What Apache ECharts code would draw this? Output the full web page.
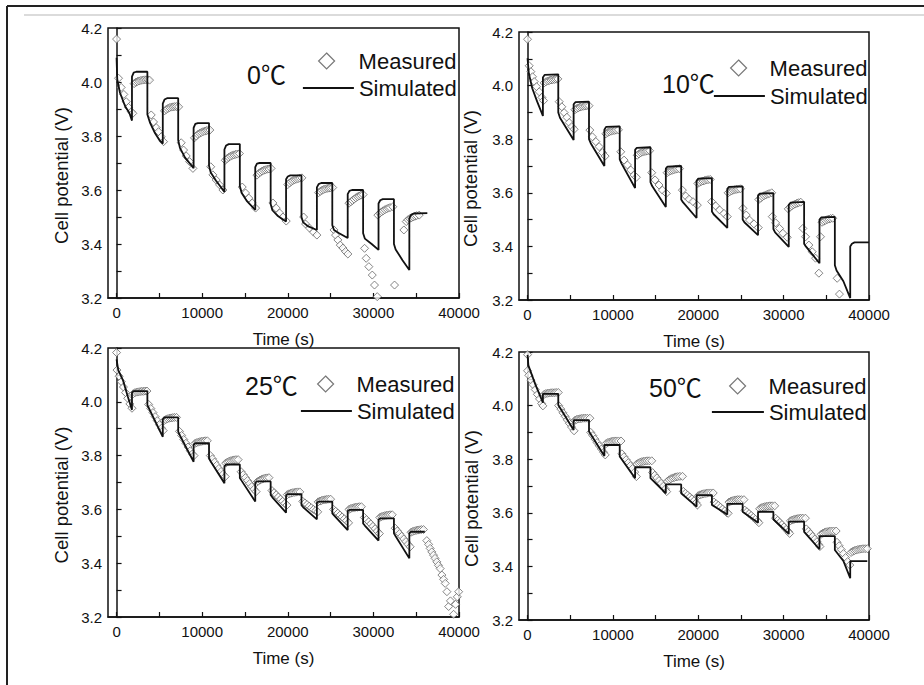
<!DOCTYPE html>
<html><head><meta charset="utf-8">
<script src="https://cdn.jsdelivr.net/npm/echarts@6/dist/echarts.min.js"></script>
<style>html,body{margin:0;padding:0;background:#fff;}#c{width:924px;height:685px;}</style>
</head><body><div id="c"></div>
<script>
// ---------- axis ticks ----------
const xTickLabels = [0, 10000, 20000, 30000, 40000];
const xTicks = [0, 5000, 10000, 15000, 20000, 25000, 30000, 35000, 40000];
const yTickLabels = [3.2, 3.4, 3.6, 3.8, 4.0, 4.2];
const yTicks = [3.2, 3.3, 3.4, 3.5, 3.6, 3.7, 3.8, 3.9, 4.0, 4.1, 4.2];
const panelTitles = ['0℃', '10℃', '25℃', '50℃'];
const legendNames = ['Measured', 'Simulated'];

// ---------- 0 ℃ ----------
const sim0 = [[0,4.09],[80,4.01],[400,3.96],[1000,3.91],[1500,3.885],[1800,3.857],
[1800,4.02],[2000,4.035],[2300,4.038],[3600,4.038],
[3600,3.88],[3900,3.85],[4500,3.81],[5000,3.785],[5400,3.772],
[5400,3.92],[5600,3.935],[5900,3.94],[7200,3.94],
[7200,3.785],[7400,3.756],[8000,3.72],[9000,3.681],
[9000,3.83],[9200,3.845],[9500,3.848],[10800,3.848],
[10800,3.69],[11000,3.665],[11600,3.635],[12600,3.593],
[12600,3.75],[12800,3.765],[13100,3.77],[14400,3.77],
[14400,3.615],[14600,3.59],[15200,3.56],[16200,3.526],
[16200,3.685],[16400,3.698],[16700,3.70],[18000,3.70],
[18000,3.548],[18200,3.525],[18800,3.505],[19800,3.483],
[19800,3.64],[20000,3.65],[20300,3.654],[21600,3.654],
[21600,3.50],[21800,3.48],[22400,3.465],[23400,3.452],
[23400,3.61],[23600,3.622],[23900,3.626],[25200,3.626],
[25200,3.47],[25400,3.452],[26000,3.44],[27000,3.422],
[27000,3.585],[27200,3.597],[27500,3.60],[28800,3.60],
[28800,3.44],[29000,3.42],[29800,3.40],[30600,3.378],
[30600,3.55],[30800,3.562],[31100,3.566],[32400,3.566],
[32400,3.40],[32600,3.38],[33400,3.34],[34200,3.304],
[34200,3.495],[34400,3.508],[34700,3.513],[36300,3.514]];
const meas0 = [[0,4.159],
[230,4.014],[540,3.98],[850,3.954],[1130,3.927],[1400,3.906],[1710,3.89],[1900,3.884],
[2050,3.994],[2250,3.999],[2450,4.002],[2650,4.004],[2850,4.006],[3050,4.007],[3250,4.008],[3450,4.008],[3650,4.008],[3850,4.007],
[4050,3.878],[4320,3.852],[4630,3.831],[4900,3.816],[5220,3.797],[5490,3.779],
[5600,3.893],[5800,3.898],[6000,3.902],[6200,3.905],[6400,3.907],[6600,3.908],[6800,3.909],[7000,3.909],[7250,3.908],
[7550,3.775],[7830,3.748],[8140,3.726],[8530,3.705],[8920,3.68],
[9100,3.793],[9300,3.80],[9500,3.806],[9700,3.81],[9900,3.813],[10100,3.816],[10300,3.818],[10500,3.82],[10700,3.821],[10900,3.822],
[11000,3.686],[11250,3.656],[11640,3.637],[12030,3.619],[12420,3.60],
[12700,3.71],[12900,3.716],[13100,3.721],[13300,3.725],[13500,3.728],[13700,3.73],[13900,3.732],[14100,3.733],[14350,3.735],
[14680,3.611],[15070,3.589],[15450,3.57],[15850,3.552],[16240,3.533],
[16400,3.655],[16600,3.661],[16800,3.666],[17000,3.67],[17200,3.673],[17400,3.675],[17600,3.677],[17800,3.678],[18050,3.68],
[18260,3.552],[18650,3.533],[19040,3.515],[19430,3.50],[19820,3.485],
[20000,3.62],[20200,3.626],[20400,3.631],[20600,3.635],[20800,3.638],[21000,3.64],[21200,3.642],[21400,3.644],[21650,3.645],
[21850,3.50],[22080,3.474],[22540,3.459],[23010,3.444],[23400,3.433],
[23600,3.59],[23800,3.595],[24000,3.599],[24200,3.602],[24400,3.604],[24600,3.606],[24800,3.607],[25000,3.608],[25250,3.609],
[25400,3.452],[25580,3.433],[25850,3.415],[26130,3.396],[26440,3.385],[26750,3.372],[27020,3.363],
[27150,3.551],[27350,3.556],[27550,3.561],[27750,3.566],[27950,3.571],[28150,3.575],[28350,3.578],[28550,3.581],[28800,3.583],
[28970,3.384],[29160,3.347],[29470,3.316],[29870,3.285],[30130,3.248],[30450,3.205],
[30520,3.507],[30750,3.514],[30950,3.519],[31150,3.523],[31350,3.527],[31550,3.53],[31750,3.533],[31950,3.535],[32270,3.538],
[32470,3.248],
[33560,3.452],[33840,3.483],[34050,3.49],[34250,3.494],[34450,3.497],[34650,3.50],[34850,3.503],[35050,3.505],[35350,3.507]];

// ---------- 10 ℃ ----------
const sim10 = [[0,4.102],[150,4.046],[550,3.99],[1130,3.94],[1800,3.887],
[1800,4.03],[2000,4.04],[3600,4.042],
[3600,3.90],[3800,3.88],[5400,3.797],
[5400,3.93],[5600,3.938],[7200,3.94],
[7200,3.80],[7400,3.785],[9000,3.70],
[9000,3.835],[9200,3.846],[10800,3.848],
[10800,3.725],[11000,3.71],[12600,3.618],
[12600,3.76],[12800,3.768],[14400,3.77],
[14400,3.64],[14600,3.625],[16200,3.547],
[16200,3.69],[16400,3.698],[18000,3.70],
[18000,3.575],[18200,3.565],[19800,3.506],
[19800,3.645],[20000,3.653],[21600,3.655],
[21600,3.53],[21800,3.52],[23400,3.469],
[23400,3.615],[23600,3.622],[25200,3.624],
[25200,3.50],[25400,3.49],[27000,3.442],
[27000,3.59],[27200,3.597],[28800,3.599],
[28800,3.465],[29000,3.452],[30600,3.398],
[30600,3.555],[30800,3.563],[32400,3.566],
[32400,3.41],[32600,3.40],[34200,3.337],
[34200,3.50],[34400,3.508],[36000,3.51],
[36000,3.33],[36200,3.31],[37000,3.27],[37800,3.207],
[37800,3.40],[38000,3.41],[38300,3.415],[40000,3.415]];
const meas10 = [[0,4.173],
[195,4.074],[390,4.052],[585,4.033],[780,4.015],[1050,3.996],[1365,3.977],[1680,3.956],[1870,3.944],
[1950,4.01],[2150,4.014],[2350,4.017],[2550,4.019],[2750,4.021],[2950,4.022],[3150,4.023],[3350,4.024],[3550,4.025],
[3710,3.94],[4020,3.921],[4290,3.899],[4600,3.882],[4880,3.862],[5190,3.847],[5460,3.837],
[5550,3.91],[5750,3.914],[5950,3.917],[6150,3.92],[6350,3.922],[6550,3.923],[6750,3.924],[6950,3.925],[7200,3.925],
[7300,3.834],[7600,3.809],[8000,3.791],[8390,3.772],[8780,3.75],[9090,3.737],
[9170,3.82],[9400,3.825],[9600,3.828],[9800,3.83],[10000,3.832],[10200,3.833],[10400,3.834],[10650,3.835],
[10920,3.753],[11310,3.722],[11700,3.704],[12090,3.685],[12480,3.666],[12750,3.658],
[12850,3.74],[13050,3.745],[13250,3.749],[13450,3.752],[13650,3.754],[13850,3.755],[14050,3.756],[14300,3.757],
[14550,3.675],[14940,3.648],[15400,3.629],[15800,3.61],[16260,3.598],
[16350,3.675],[16550,3.679],[16750,3.682],[16950,3.684],[17150,3.686],[17350,3.688],[17550,3.689],[17800,3.69],
[18140,3.61],[18530,3.588],[18920,3.576],[19380,3.567],[19890,3.554],
[19950,3.635],[20150,3.639],[20350,3.642],[20550,3.644],[20750,3.646],[20950,3.648],[21150,3.649],[21400,3.65],
[21570,3.567],[22040,3.551],[22500,3.536],[23010,3.523],[23400,3.511],
[23500,3.60],[23700,3.604],[23900,3.607],[24100,3.61],[24300,3.612],[24500,3.613],[24700,3.614],[24950,3.615],
[25230,3.542],[25620,3.517],[26010,3.498],[26520,3.484],[27030,3.47],
[27100,3.575],[27300,3.58],[27500,3.585],[27700,3.589],[27900,3.592],[28100,3.595],[28300,3.597],[28600,3.60],
[28670,3.511],[29060,3.488],[29520,3.467],[29910,3.449],[30420,3.434],
[30540,3.54],[30750,3.546],[30950,3.551],[31150,3.555],[31350,3.558],[31550,3.561],[31750,3.563],[32000,3.565],
[32250,3.467],[32570,3.436],[32960,3.405],[33350,3.38],[33740,3.356],[34130,3.30],
[34320,3.436],[34500,3.49],[34700,3.494],[34900,3.497],[35100,3.50],[35300,3.502],[35500,3.504],[35750,3.505],
[36270,3.281],[36540,3.222]];

// ---------- 25 ℃ ----------
const sim25 = [[0,4.158],[200,4.118],[740,4.081],[1320,4.019],[1800,3.97],
[1800,4.034],[2000,4.04],[3600,4.04],
[3600,3.988],[3800,3.975],[5400,3.87],
[5400,3.935],[5600,3.942],[7200,3.942],
[7200,3.889],[7400,3.875],[9000,3.777],
[9000,3.84],[9200,3.846],[10800,3.846],
[10800,3.79],[11000,3.778],[12600,3.697],
[12600,3.76],[12800,3.767],[14400,3.767],
[14400,3.717],[14600,3.707],[16200,3.629],
[16200,3.70],[16400,3.704],[18000,3.704],
[18000,3.654],[18200,3.645],[19800,3.588],
[19800,3.652],[20000,3.657],[21600,3.657],
[21600,3.616],[21800,3.608],[23400,3.563],
[23400,3.625],[23600,3.629],[25200,3.629],
[25200,3.585],[25400,3.578],[27000,3.523],
[27000,3.594],[27200,3.598],[28800,3.598],
[28800,3.548],[29000,3.54],[30600,3.484],
[30600,3.562],[30800,3.567],[32400,3.567],
[32400,3.511],[32600,3.50],[34200,3.418],
[34200,3.512],[34400,3.517],[36000,3.517]];
const meas25 = [[0,4.183],
[50,4.118],[300,4.095],[550,4.075],[800,4.055],[1050,4.034],[1300,4.013],[1550,3.992],[1800,3.976],
[1950,4.03],[2150,4.034],[2350,4.036],[2550,4.037],[2750,4.038],[2950,4.039],[3150,4.039],[3350,4.04],[3550,4.04],
[3750,3.99],[4000,3.975],[4250,3.96],[4500,3.945],[4750,3.93],[5000,3.915],[5250,3.902],[5450,3.893],
[5550,3.93],[5750,3.934],[5950,3.937],[6150,3.939],[6350,3.94],[6550,3.941],[6750,3.942],[7000,3.942],
[7350,3.89],[7600,3.875],[7850,3.86],[8100,3.846],[8350,3.832],[8600,3.818],[8850,3.806],[9050,3.80],
[9150,3.845],[9350,3.848],[9550,3.85],[9750,3.852],[9950,3.853],[10150,3.854],[10350,3.855],[10600,3.855],
[10950,3.80],[11200,3.788],[11450,3.776],[11700,3.764],[11950,3.752],[12200,3.741],[12450,3.731],[12700,3.722],
[12750,3.772],[12950,3.776],[13150,3.779],[13350,3.781],[13550,3.783],[13750,3.784],[13950,3.785],[14200,3.785],
[14550,3.74],[14800,3.729],[15050,3.718],[15300,3.707],[15550,3.696],[15800,3.685],[16050,3.675],[16300,3.666],
[16350,3.70],[16550,3.705],[16750,3.709],[16950,3.712],[17150,3.714],[17350,3.716],[17550,3.717],[17800,3.718],
[18150,3.67],[18400,3.662],[18650,3.654],[18900,3.646],[19150,3.638],[19400,3.63],[19650,3.622],[19900,3.616],
[19950,3.655],[20150,3.658],[20350,3.66],[20550,3.662],[20750,3.663],[20950,3.664],[21150,3.665],[21400,3.665],
[21750,3.63],[22000,3.624],[22250,3.618],[22500,3.612],[22750,3.606],[23000,3.60],[23250,3.595],[23500,3.591],
[23550,3.628],[23750,3.631],[23950,3.633],[24150,3.635],[24350,3.636],[24550,3.637],[24750,3.638],[25000,3.638],
[25350,3.60],[25600,3.593],[25850,3.586],[26100,3.579],[26350,3.572],[26600,3.565],[26850,3.558],[27100,3.55],
[27150,3.60],[27350,3.603],[27550,3.605],[27750,3.607],[27950,3.608],[28150,3.609],[28350,3.61],[28600,3.61],
[28950,3.57],[29200,3.562],[29450,3.554],[29700,3.546],[29950,3.537],[30200,3.528],[30450,3.519],[30700,3.51],
[30750,3.57],[30950,3.573],[31150,3.575],[31350,3.577],[31550,3.578],[31750,3.579],[31950,3.58],[32200,3.58],
[32550,3.53],[32800,3.52],[33050,3.51],[33300,3.50],[33550,3.49],[33800,3.48],[34050,3.47],[34300,3.461],
[34400,3.515],[34600,3.518],[34800,3.52],[35000,3.522],[35200,3.523],[35400,3.524],[35600,3.525],[35850,3.525],
[36240,3.484],[36450,3.47],[36630,3.455],[36820,3.442],[37020,3.43],[37200,3.418],[37410,3.405],[37600,3.392],[37800,3.38],
[38000,3.356],[38200,3.34],[38390,3.325],[38590,3.294],[38790,3.239],[39000,3.26],[39370,3.21],[39600,3.247],[39800,3.275],[39960,3.294]];

// ---------- 50 ℃ ----------
const sim50 = [[0,4.189],[100,4.15],[900,4.08],[1800,4.011],
[1800,4.044],[3600,4.044],
[3600,4.002],[5400,3.909],
[5400,3.946],[7200,3.946],
[7200,3.903],[9000,3.812],
[9000,3.853],[10800,3.853],
[10800,3.81],[12600,3.729],
[12600,3.77],[14400,3.77],
[14400,3.729],[16200,3.673],
[16200,3.706],[18000,3.706],
[18000,3.673],[19800,3.623],
[19800,3.666],[21600,3.666],
[21600,3.629],[23400,3.594],
[23400,3.633],[25200,3.633],
[25200,3.604],[27000,3.563],
[27000,3.604],[28800,3.604],
[28800,3.576],[30600,3.521],
[30600,3.567],[32400,3.567],
[32400,3.529],[34200,3.464],
[34200,3.513],[36000,3.513],
[36000,3.461],[37000,3.42],[37800,3.356],
[37800,3.42],[39800,3.42]];
const meas50 = [[0,4.19],
[0,4.13],[150,4.113],[400,4.095],[650,4.078],[900,4.06],[1150,4.042],[1400,4.025],[1650,4.008],[1800,3.999],
[1950,4.042],[2150,4.045],[2350,4.046],[2550,4.047],[2750,4.048],[2950,4.048],[3150,4.048],[3350,4.049],[3600,4.049],
[3650,4.0],[3900,3.987],[4150,3.973],[4400,3.96],[4650,3.947],[4900,3.934],[5150,3.92],[5450,3.906],
[5550,3.945],[5750,3.948],[5950,3.95],[6150,3.951],[6350,3.952],[6550,3.953],[6750,3.953],[7000,3.953],[7300,3.953],
[7400,3.90],[7650,3.888],[7900,3.875],[8150,3.862],[8400,3.85],[8650,3.838],[8900,3.826],[9100,3.816],
[9200,3.858],[9400,3.862],[9600,3.864],[9800,3.866],[10000,3.867],[10200,3.868],[10400,3.868],[10650,3.868],[10950,3.868],
[11050,3.82],[11300,3.809],[11550,3.798],[11800,3.787],[12050,3.776],[12300,3.765],[12550,3.752],[12750,3.735],
[12800,3.782],[13000,3.786],[13200,3.789],[13400,3.791],[13600,3.792],[13800,3.793],[14000,3.794],[14250,3.794],[14550,3.794],
[14650,3.75],[14900,3.74],[15150,3.73],[15400,3.72],[15650,3.71],[15900,3.699],[16150,3.689],[16300,3.679],
[16400,3.718],[16600,3.723],[16800,3.727],[17000,3.73],[17200,3.732],[17400,3.734],[17600,3.735],[17850,3.736],[18150,3.736],
[18250,3.68],[18500,3.673],[18750,3.666],[19000,3.659],[19250,3.652],[19500,3.645],[19750,3.637],[19900,3.629],
[20000,3.664],[20200,3.667],[20400,3.669],[20600,3.671],[20800,3.672],[21000,3.673],[21200,3.674],[21450,3.674],[21750,3.674],
[21850,3.64],[22100,3.634],[22350,3.628],[22600,3.621],[22850,3.614],[23100,3.607],[23350,3.60],[23500,3.598],
[23600,3.64],[23800,3.643],[24000,3.645],[24200,3.647],[24400,3.648],[24600,3.649],[24800,3.649],[25050,3.649],[25350,3.649],
[25450,3.61],[25700,3.604],[25950,3.597],[26200,3.59],[26450,3.583],[26700,3.576],[26950,3.569],[27100,3.563],
[27200,3.615],[27400,3.619],[27600,3.621],[27800,3.623],[28000,3.624],[28200,3.625],[28400,3.626],[28650,3.626],[28950,3.626],
[29050,3.58],[29300,3.572],[29550,3.564],[29800,3.556],[30050,3.547],[30300,3.538],[30550,3.53],[30700,3.523],
[30800,3.57],[31000,3.573],[31200,3.575],[31400,3.577],[31600,3.578],[31800,3.579],[32000,3.58],[32250,3.58],[32550,3.58],
[32650,3.54],[32900,3.531],[33150,3.522],[33400,3.512],[33650,3.502],[33900,3.492],[34100,3.482],[34250,3.474],
[34400,3.52],[34600,3.524],[34800,3.527],[35000,3.529],[35200,3.53],[35400,3.531],[35600,3.532],[35850,3.532],[36150,3.532],
[36250,3.49],[36500,3.477],[36750,3.463],[37000,3.448],[37250,3.433],[37500,3.418],[37750,3.405],
[37900,3.452],[38100,3.456],[38300,3.459],[38500,3.461],[38700,3.463],[38900,3.464],[39100,3.465],[39300,3.466],[39550,3.466],[39800,3.466]];

const simSets = [sim0, sim10, sim25, sim50];
const measSets = [meas0, meas10, meas25, meas50];

// ---------- layout (styling only) ----------
const FONT = "'Liberation Sans', Arial, 'Noto Sans CJK SC', sans-serif";
const grids = [
  {left:108, top:28, width:351, height:270},
  {left:519, top:32, width:350, height:268},
  {left:108, top:348, width:351, height:269},
  {left:519, top:352, width:350, height:268}
];
const yNameGap = [37, 39, 37, 38];
const titlePos = [[247,62],[662,71],[245,373],[649,375]];
// [left, top, textPaddingLeft]
const measLeg = [[318,50,19],[730,57,18],[317,373,18],[729,375,18]];
// [left, top, itemWidth]
const simLeg = [[302,77,51],[713,85,51],[300,400,51],[711,401,52]];

const chart = echarts.init(document.getElementById('c'), null, {renderer:'svg'});
const option = {
  animation:false,
  backgroundColor:'#ffffff',
  grid: grids.map(g => Object.assign({show:true, borderColor:'#111', borderWidth:1.5, backgroundColor:'transparent'}, g)),
  title: panelTitles.map((t,i) => ({text:t, left:titlePos[i][0], top:titlePos[i][1], padding:0,
    textStyle:{fontFamily:FONT, fontSize:25, fontWeight:'normal', color:'#111'}})),
  legend: [].concat(
    measLeg.map(p => ({data:[{name:legendNames[0], icon:'path://M0,-10L10,0L0,10L-10,0Z'}], left:p[0], top:p[1], padding:0,
      itemWidth:16, itemHeight:16, selectedMode:false,
      itemStyle:{color:'#fff', borderColor:'#555', borderWidth:1.2},
      textStyle:{fontFamily:FONT, fontSize:22, color:'#111', padding:[0,0,0,p[2]]}})),
    simLeg.map(p => ({data:[legendNames[1]], left:p[0], top:p[1], padding:0,
      itemWidth:p[2], itemHeight:12, selectedMode:false,
      itemStyle:{opacity:0},
      lineStyle:{color:'#111', width:1.8},
      textStyle:{fontFamily:FONT, fontSize:22, color:'#111'}}))
  ),
  xAxis: grids.map((g,i) => ({
    type:'value', gridIndex:i, min:-1000, max:40000,
    name:'Time (s)', nameLocation:'middle', nameGap:33,
    nameTextStyle:{fontFamily:FONT, fontSize:17, color:'#111'},
    axisLine:{show:true, lineStyle:{color:'#111', width:1.5}},
    axisTick:{show:true, inside:true, length:5, customValues:xTicks, lineStyle:{color:'#111', width:1.2}},
    axisLabel:{customValues:xTickLabels, fontFamily:FONT, fontSize:15, color:'#111', margin:7,
      formatter: v => String(Math.round(v))},
    splitLine:{show:false}
  })),
  yAxis: grids.map((g,i) => ({
    type:'value', gridIndex:i, min:3.2, max:4.2,
    name:'Cell potential (V)', nameLocation:'middle', nameGap:yNameGap[i], nameRotate:90,
    nameTextStyle:{fontFamily:FONT, fontSize:18.5, color:'#111', padding:[0,25,0,0]},
    axisLine:{show:true, lineStyle:{color:'#111', width:1.5}},
    axisTick:{show:true, inside:true, length:5, customValues:yTicks, lineStyle:{color:'#111', width:1.2}},
    axisLabel:{customValues:yTickLabels, fontFamily:FONT, fontSize:15, color:'#111', margin:6,
      formatter: v => Number(v).toFixed(1)},
    splitLine:{show:false}
  })),
  series: [].concat(
    measSets.map((d,i) => ({name:legendNames[0], type:'scatter', xAxisIndex:i, yAxisIndex:i, data:d,
      symbol:'diamond', symbolSize:8, z:2,
      itemStyle:{color:'#fff', borderColor:'#666', borderWidth:1}})),
    simSets.map((d,i) => ({name:legendNames[1], type:'line', xAxisIndex:i, yAxisIndex:i, data:d,
      symbol:'none', showSymbol:false, z:3, clip:true, color:'#111',
      lineStyle:{color:'#111', width:1.8}}))
  ),
  graphic: [
    {type:'line', shape:{x1:7, y1:6, x2:924, y2:6}, style:{stroke:'#222', lineWidth:2}},
    {type:'line', shape:{x1:7, y1:6, x2:7, y2:685}, style:{stroke:'#222', lineWidth:2}},
    {type:'line', shape:{x1:24, y1:15, x2:924, y2:15}, style:{stroke:'#cfcfcf', lineWidth:1.5}}
  ]
};
chart.setOption(option);
</script>
</body></html>
